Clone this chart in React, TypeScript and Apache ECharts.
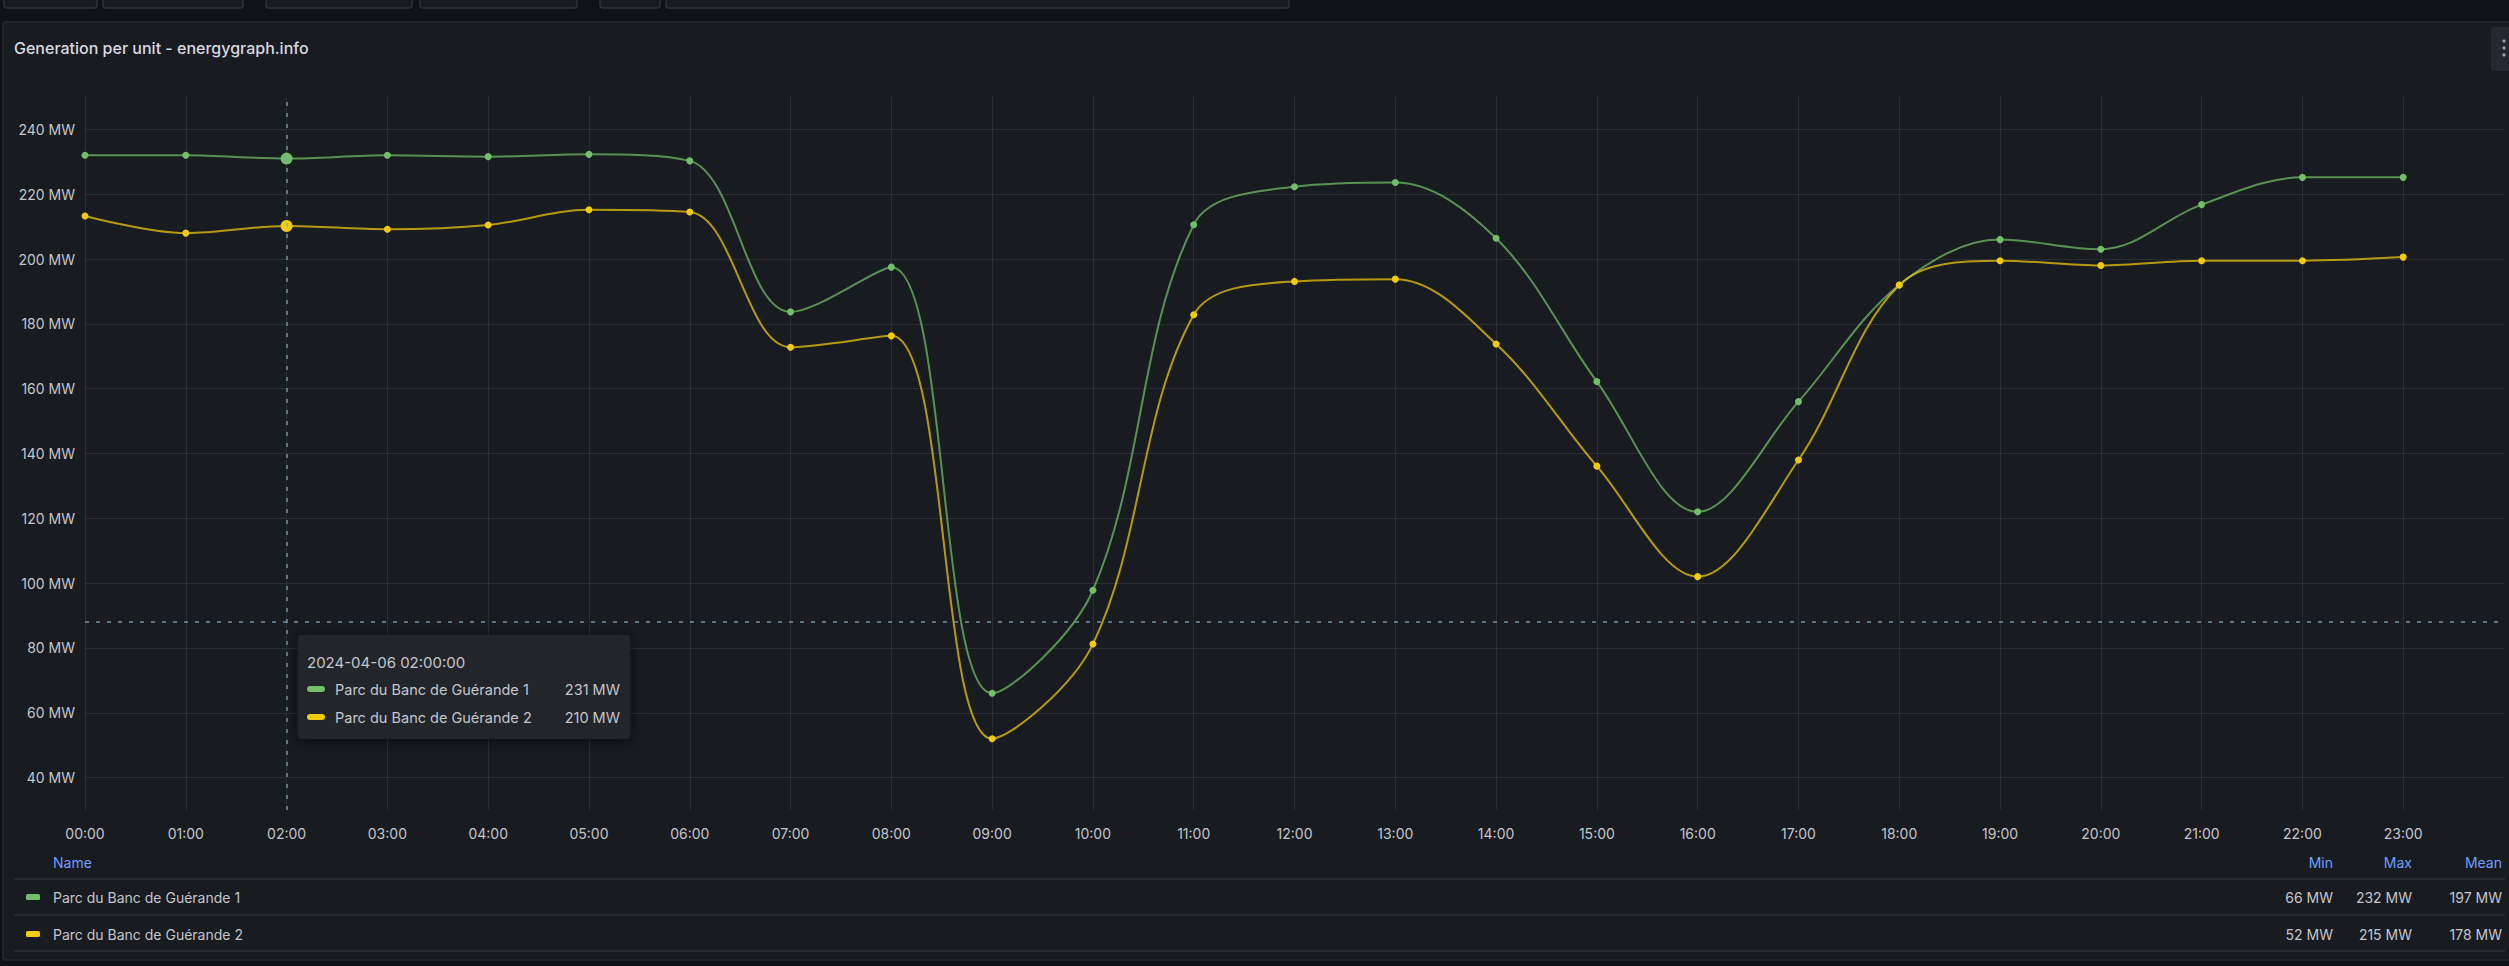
import React, { useEffect, useRef } from 'react';
import * as echarts from 'echarts';

const hours = ['00:00', '01:00', '02:00', '03:00', '04:00', '05:00', '06:00', '07:00', '08:00', '09:00', '10:00', '11:00',
  '12:00', '13:00', '14:00', '15:00', '16:00', '17:00', '18:00', '19:00', '20:00', '21:00', '22:00', '23:00'];
const unit1 = [232, 232, 231, 232, 231.6, 232.3, 230.3, 183.7, 197.5, 66, 97.8, 210.6, 222.3, 223.6, 206.4, 162.2, 122, 156,
  192, 206, 203, 216.8, 225.2, 225.2];
const unit2 = [213.3, 208, 210.2, 209.2, 210.5, 215.2, 214.5, 172.8, 176.3, 52, 81.2, 182.8, 193.1, 193.8, 173.8, 136.1, 102,
  138, 192, 199.5, 198, 199.5, 199.5, 200.6];
const seriesNames = ['Parc du Banc de Guérande 1', 'Parc du Banc de Guérande 2'];
const seriesColors = ['#73bf69', '#f2cc0c'];
const lineColors = ['rgba(115,191,105,0.72)', 'rgba(242,204,12,0.72)'];
const yTicks = [40, 60, 80, 100, 120, 140, 160, 180, 200, 220, 240];
const statHeaders = ['Min', 'Max', 'Mean'];
const tooltipDate = '2024-04-06';
const hoverIndex = 2;
const cursorValue = 88;
const title = 'Generation per unit - energygraph.info';

const GRID = '#2a2d33';
const TEXT = '#c4c5cd';
const FONT = 'Inter';

const seriesData = [unit1, unit2];

function stats(arr: number[]) {
  const min = Math.min(...arr);
  const max = Math.max(...arr);
  const mean = arr.reduce((a, b) => a + b, 0) / arr.length;
  return [min, max, mean].map((v) => `${Math.round(v)} MW`);
}

function buildOption() {
  const statX = [2333, 2412, 2502];
  const rowY = [897, 934];
  const tipRowY = [689, 717];
  const graphics: any[] = [];

  // top toolbar boxes
  const boxes = [[4, 93], [103, 140], [266, 146], [420, 157], [600, 60], [666, 623]];
  boxes.forEach(([x, w]) => {
    graphics.push({ type: 'rect', shape: { x, y: -8, width: w, height: 16, r: 3 }, style: { fill: '#181b1f', stroke: '#2f3238', lineWidth: 1.5 }, z: 1 });
  });
  // panel
  graphics.push({ type: 'rect', shape: { x: 3, y: 22, width: 2515, height: 938, r: 3 }, style: { fill: '#181b1f', stroke: '#26292f', lineWidth: 1.5 }, z: -10, zlevel: 0 });
  graphics.push({ type: 'text', x: 14, y: 48, style: { text: title, fill: '#d8d9e0', fontSize: 16, fontWeight: 500, fontFamily: FONT, verticalAlign: 'middle' }, z: 10 });
  // menu
  graphics.push({ type: 'rect', shape: { x: 2491, y: 27, width: 22, height: 44, r: 2 }, style: { fill: '#25282e' }, z: 10 });
  [41, 48, 55].forEach((cy) => graphics.push({ type: 'circle', shape: { cx: 2504, cy, r: 1.6 }, style: { fill: '#a0a1aa' }, z: 11 }));

  // legend table
  graphics.push({ type: 'text', x: 53, y: 862, style: { text: 'Name', fill: '#6e9fff', fontSize: 14, fontFamily: FONT, verticalAlign: 'middle' }, z: 10 });
  statHeaders.forEach((h, i) => graphics.push({ type: 'text', x: statX[i], y: 862, style: { text: h, fill: '#6e9fff', fontSize: 14, fontFamily: FONT, align: 'right', verticalAlign: 'middle' }, z: 10 }));
  [879, 915, 951].forEach((y) => graphics.push({ type: 'line', shape: { x1: 14, y1: y, x2: 2505, y2: y }, style: { stroke: '#2c2f35', lineWidth: 1.5 }, z: 10 }));
  seriesNames.forEach((name, k) => {
    const y = rowY[k];
    graphics.push({ type: 'rect', shape: { x: 26, y: y - 3, width: 14, height: 6, r: 1.5 }, style: { fill: seriesColors[k] }, z: 10 });
    graphics.push({ type: 'text', x: 53, y, style: { text: name, fill: TEXT, fontSize: 14, fontFamily: FONT, verticalAlign: 'middle' }, z: 10 });
    stats(seriesData[k]).forEach((s, i) => graphics.push({ type: 'text', x: statX[i], y, style: { text: s, fill: TEXT, fontSize: 14, fontFamily: FONT, align: 'right', verticalAlign: 'middle' }, z: 10 }));
  });

  // tooltip
  graphics.push({ type: 'rect', shape: { x: 298, y: 635, width: 332, height: 104, r: 3 }, style: { fill: '#22252b', shadowBlur: 14, shadowColor: 'rgba(0,0,0,0.55)', shadowOffsetY: 2 }, z: 100 });
  graphics.push({ type: 'text', x: 307, y: 662, style: { text: `${tooltipDate} ${hours[hoverIndex]}:00`, fill: TEXT, fontSize: 15, fontFamily: FONT, verticalAlign: 'middle' }, z: 101 });
  seriesNames.forEach((name, k) => {
    const y = tipRowY[k];
    graphics.push({ type: 'rect', shape: { x: 307, y: y - 3, width: 18, height: 6, r: 3 }, style: { fill: seriesColors[k] }, z: 101 });
    graphics.push({ type: 'text', x: 335, y, style: { text: name, fill: TEXT, fontSize: 14.5, fontFamily: FONT, verticalAlign: 'middle' }, z: 101 });
    graphics.push({ type: 'text', x: 620, y, style: { text: `${Math.round(seriesData[k][hoverIndex])} MW`, fill: TEXT, fontSize: 14.5, fontFamily: FONT, align: 'right', verticalAlign: 'middle' }, z: 101 });
  });

  const xSplitColors = hours.map(() => GRID).concat(['transparent']);

  return {
    animation: false,
    backgroundColor: '#111217',
    grid: { left: 85, right: 5, top: 97, bottom: 156, containLabel: false },
    xAxis: {
      type: 'value', min: 0, max: 24, interval: 1,
      axisLine: { show: false }, axisTick: { show: false },
      axisLabel: { formatter: (v: number) => (v < hours.length ? hours[v] : ''), color: TEXT, fontSize: 14, fontFamily: FONT, margin: 16, showMaxLabel: false },
      splitLine: { show: true, lineStyle: { color: xSplitColors, width: 1 } },
    },
    yAxis: {
      type: 'value', min: 30, max: 250, interval: 10,
      axisLine: { show: false }, axisTick: { show: false },
      axisLabel: { formatter: (v: number) => (yTicks.includes(v) ? `${v} MW` : ''), color: TEXT, fontSize: 14, fontFamily: FONT, margin: 10 },
      splitLine: { show: true, lineStyle: { color: ['transparent', GRID], width: 1 } },
    },
    graphic: graphics,
    series: seriesNames.map((name, k) => ({
      type: 'line',
      name,
      data: hours.map((_, i) => [i, seriesData[k][i]]),
      smooth: 0.35,
      symbol: 'circle',
      showSymbol: true,
      symbolSize: (_v: any, p: any) => (p.dataIndex === hoverIndex ? 12 : 7),
      lineStyle: { width: 2, color: lineColors[k] },
      itemStyle: { color: seriesColors[k] },
      z: 3,
      markLine: k === 0 ? {
        silent: true, symbol: 'none', label: { show: false },
        lineStyle: { color: 'rgba(130,165,185,0.85)', type: [4, 7], width: 1.5 },
        data: [{ xAxis: hoverIndex }, { yAxis: cursorValue }],
      } : undefined,
    })),
  };
}

export default function App() {
  const ref = useRef<HTMLDivElement>(null);
  useEffect(() => {
    const chart = echarts.init(ref.current!, null, { renderer: 'svg' });
    chart.setOption(buildOption() as any);
    return () => chart.dispose();
  }, []);
  return <div ref={ref} style={{ position: 'absolute', left: 0, top: 0, width: 2509, height: 966 }} />;
}
